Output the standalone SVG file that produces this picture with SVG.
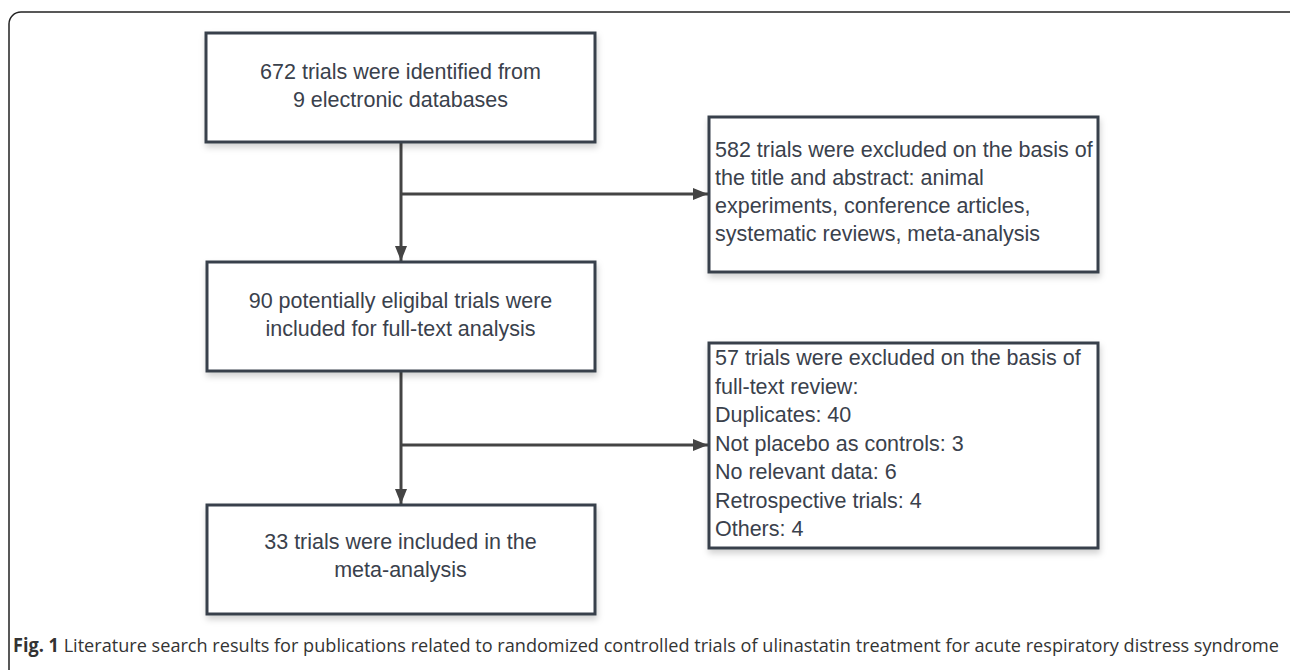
<svg xmlns="http://www.w3.org/2000/svg" width="1290" height="670" viewBox="0 0 1290 670">
<defs>
<filter id="sh" x="-5%" y="-5%" width="115%" height="125%">
<feDropShadow dx="1" dy="4" stdDeviation="3" flood-color="#000" flood-opacity="0.18"/>
</filter>
<marker id="ah" viewBox="0 0 15 12" refX="15" refY="6" markerWidth="15" markerHeight="12" orient="auto" markerUnits="userSpaceOnUse">
<path d="M0,0 L15,6 L0,12 z" fill="#444"/>
</marker>
<style>
.box{fill:#fff;stroke:#39414c;stroke-width:3;filter:url(#sh)}
.t{font-family:"Liberation Sans",Arial,sans-serif;font-size:21.5px;fill:#3a414c}
.c{text-anchor:middle}
.con{fill:none;stroke:#444;stroke-width:3}
.cap{font-family:"Open Sans","Liberation Sans",sans-serif;font-size:19px;fill:#333}
</style>
</defs>
<rect x="0" y="0" width="1290" height="670" fill="#fff"/>
<rect x="9" y="12" width="1292" height="720" rx="12" ry="12" fill="none" stroke="#222" stroke-width="1.5"/>
<g id="connectors">
<path class="con" d="M401,142 V261" marker-end="url(#ah)"/>
<path class="con" d="M401,194 H708" marker-end="url(#ah)"/>
<path class="con" d="M401,371 V504" marker-end="url(#ah)"/>
<path class="con" d="M401,445 H708" marker-end="url(#ah)"/>
</g>
<g id="n1">
<rect class="box" x="206" y="33" width="389" height="109"/>
<text class="t c" x="400.5" y="79">672 trials were identified from</text>
<text class="t c" x="400.5" y="107">9 electronic databases</text>
</g>
<g id="n2">
<rect class="box" x="709" y="117" width="389" height="155"/>
<text class="t" x="715" y="157">582 trials were excluded on the basis of</text>
<text class="t" x="715" y="185">the title and abstract: animal</text>
<text class="t" x="715" y="213">experiments, conference articles,</text>
<text class="t" x="715" y="241">systematic reviews, meta-analysis</text>
</g>
<g id="n3">
<rect class="box" x="207" y="262" width="388" height="109"/>
<text class="t c" x="400.5" y="308">90 potentially eligibal trials were</text>
<text class="t c" x="400.5" y="336">included for full-text analysis</text>
</g>
<g id="n4">
<rect class="box" x="709" y="343" width="389" height="205"/>
<text class="t" x="715" y="365">57 trials were excluded on the basis of</text>
<text class="t" x="715" y="393.5">full-text review:</text>
<text class="t" x="715" y="422">Duplicates: 40</text>
<text class="t" x="715" y="450.5">Not placebo as controls: 3</text>
<text class="t" x="715" y="479">No relevant data: 6</text>
<text class="t" x="715" y="507.5">Retrospective trials: 4</text>
<text class="t" x="715" y="536">Others: 4</text>
</g>
<g id="n5">
<rect class="box" x="207" y="505" width="388" height="109"/>
<text class="t c" x="400.5" y="549">33 trials were included in the</text>
<text class="t c" x="400.5" y="577">meta-analysis</text>
</g>
<text class="cap" x="13" y="652" textLength="1266" lengthAdjust="spacingAndGlyphs"><tspan font-weight="bold">Fig. 1</tspan> Literature search results for publications related to randomized controlled trials of ulinastatin treatment for acute respiratory distress syndrome</text>
</svg>
